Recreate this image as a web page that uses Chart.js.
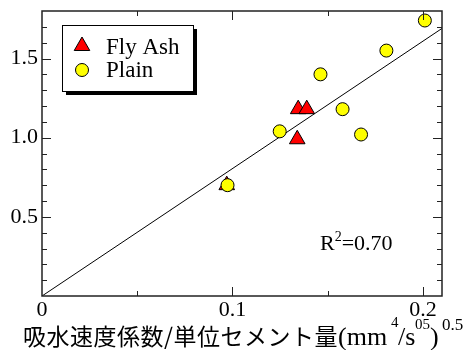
<!DOCTYPE html>
<html>
<head>
<meta charset="utf-8">
<script src="https://cdn.jsdelivr.net/npm/chart.js@4"></script>
<style>
  html, body { margin: 0; padding: 0; background: #fff; }
</style>
</head>
<body>
<canvas id="chart" width="464" height="350"></canvas>
<script>
// values
const plainX = [0.0974, 0.1248, 0.1462, 0.1578, 0.1675, 0.1808, 0.2010];
const plainY = [0.70, 1.04, 1.40, 1.18, 1.02, 1.55, 1.74];
const flyAshX = [0.097, 0.134, 0.1345, 0.139];
const flyAshY = [0.70, 0.99, 1.18, 1.18];
const fitX = [0, 0.21];
const fitY = [0, 1.69];

const xMajorTicks = [0.1, 0.2];
const xMinorTicks = [0.05, 0.15];
const yMajorTicks = [0.5, 1.0, 1.5];
const yMinorTicks = [0.1, 0.2, 0.3, 0.4, 0.6, 0.7, 0.8, 0.9, 1.1, 1.2, 1.3, 1.4, 1.6, 1.7];

const seriesNames = ["Fly Ash", "Plain"];
const r2Text = "0.70";

const SERIF = "Liberation Serif";
const CJK = '"Noto Sans CJK JP"';

function pts(xs, ys) {
    return xs.map((x, i) => ({ x: x, y: ys[i] }));
}

function triangle(ctx, x, y, r) {
    ctx.beginPath();
    ctx.moveTo(x, y - r);
    ctx.lineTo(x + Math.sin(2 * Math.PI / 3) * r, y + r / 2);
    ctx.lineTo(x - Math.sin(2 * Math.PI / 3) * r, y + r / 2);
    ctx.closePath();
}

// frame, inward ticks, legend box and the texts
const decor = {
    id: "decor",
    afterDraw(chart) {
        const ctx = chart.ctx;
        const a = chart.chartArea;
        const xs = chart.scales.x, ys = chart.scales.y;
        ctx.save();

        ctx.strokeStyle = "#222";
        ctx.lineWidth = 1.5;
        ctx.strokeRect(a.left, a.top, a.right - a.left, a.bottom - a.top);

        ctx.lineWidth = 1;
        ctx.beginPath();
        const tickX = (v, len) => {
            const p = Math.round(xs.getPixelForValue(v)) + 0.5;
            ctx.moveTo(p, a.bottom); ctx.lineTo(p, a.bottom - len);
            ctx.moveTo(p, a.top); ctx.lineTo(p, a.top + len);
        };
        const tickY = (v, len) => {
            const p = Math.round(ys.getPixelForValue(v)) + 0.5;
            ctx.moveTo(a.left, p); ctx.lineTo(a.left + len, p);
            ctx.moveTo(a.right, p); ctx.lineTo(a.right - len, p);
        };
        xMajorTicks.forEach(v => tickX(v, 9));
        xMinorTicks.forEach(v => tickX(v, 5));
        yMajorTicks.forEach(v => tickY(v, 9));
        yMinorTicks.forEach(v => tickY(v, 5));
        ctx.stroke();

        // legend
        ctx.fillStyle = "#000";
        ctx.fillRect(66, 29, 131, 66);
        ctx.fillStyle = "#fff";
        ctx.fillRect(62, 25, 131, 66);
        ctx.strokeStyle = "#000";
        ctx.strokeRect(62.5, 25.5, 131, 66);

        triangle(ctx, 82, 46, 9);
        ctx.fillStyle = "#ff0000";
        ctx.fill();
        ctx.stroke();
        ctx.beginPath();
        ctx.arc(82, 70, 6.5, 0, Math.PI * 2);
        ctx.fillStyle = "#ffff00";
        ctx.fill();
        ctx.stroke();

        ctx.fillStyle = "#000";
        ctx.textBaseline = "alphabetic";
        ctx.textAlign = "left";
        ctx.font = "23px " + SERIF;
        ctx.fillText(seriesNames[0], 106, 54);
        ctx.fillText(seriesNames[1], 106, 77);

        // R^2 label
        ctx.font = "22px " + SERIF;
        ctx.fillText("R", 320, 250);
        let x = 320 + ctx.measureText("R").width;
        ctx.font = "14px " + SERIF;
        ctx.fillText("2", x, 241);
        x += ctx.measureText("2").width;
        ctx.font = "22px " + SERIF;
        ctx.fillText("=" + r2Text, x, 250);

        // x axis title
        const jp = "吸水速度係数/単位セメント量";
        ctx.font = "23px " + CJK;
        const w = ctx.measureText(jp).width;
        ctx.letterSpacing = ((315 - w) / jp.length) + "px";
        ctx.fillText(jp, 23, 345);
        ctx.letterSpacing = "0px";
        const parts = [
            ["(mm", 26, 338, 345],
            ["4", 15, 391, 327],
            ["/s", 26, 398, 345],
            ["05", 15, 415, 329],
            [")", 26, 430, 345],
            ["0.5", 17, 442, 330]
        ];
        parts.forEach(p => {
            ctx.font = p[1] + "px " + SERIF;
            ctx.fillText(p[0], p[2], p[3]);
        });

        ctx.restore();
    }
};

const chart = new Chart(document.getElementById("chart"), {
    type: "scatter",
    data: {
        datasets: [
            {
                label: seriesNames[1],
                data: pts(plainX, plainY),
                pointStyle: "circle",
                pointRadius: 6.5,
                pointBackgroundColor: "#ffff00",
                pointBorderColor: "#000",
                pointBorderWidth: 1,
                order: 0
            },
            {
                label: seriesNames[0],
                data: pts(flyAshX, flyAshY),
                pointStyle: "triangle",
                pointRadius: 9,
                pointBackgroundColor: "#ff0000",
                pointBorderColor: "#000",
                pointBorderWidth: 1,
                order: 1
            },
            {
                label: "fit",
                data: pts(fitX, fitY),
                showLine: true,
                pointRadius: 0,
                borderColor: "#000",
                borderWidth: 1,
                order: 2
            }
        ]
    },
    options: {
        responsive: false,
        animation: false,
        layout: { padding: { top: 11, right: 22, left: 0, bottom: 0 } },
        plugins: {
            legend: { display: false },
            tooltip: { enabled: false }
        },
        scales: {
            x: {
                type: "linear",
                min: 0,
                max: 0.21,
                afterFit(s) {
                    s.height = 54;
                    s.paddingLeft = 0; s.paddingRight = 0;
                },
                grid: { display: false, drawTicks: false },
                border: { display: false },
                ticks: {
                    stepSize: 0.1,
                    includeBounds: false,
                    padding: 1,
                    color: "#000",
                    font: { family: SERIF, size: 22 },
                    maxRotation: 0,
                    callback: v => v === 0 ? "0" : v.toFixed(1)
                }
            },
            y: {
                type: "linear",
                min: 0,
                max: 1.8,
                afterFit(s) {
                    s.width = 42;
                    s.paddingTop = 0; s.paddingBottom = 0;
                },
                grid: { display: false, drawTicks: false },
                border: { display: false },
                ticks: {
                    stepSize: 0.5,
                    includeBounds: false,
                    padding: 4,
                    color: "#000",
                    font: { family: SERIF, size: 22 },
                    callback: v => v === 0 ? "" : v.toFixed(1)
                }
            }
        }
    },
    plugins: [decor]
});

if (document.fonts) document.fonts.ready.then(() => chart.update());
</script>
</body>
</html>
